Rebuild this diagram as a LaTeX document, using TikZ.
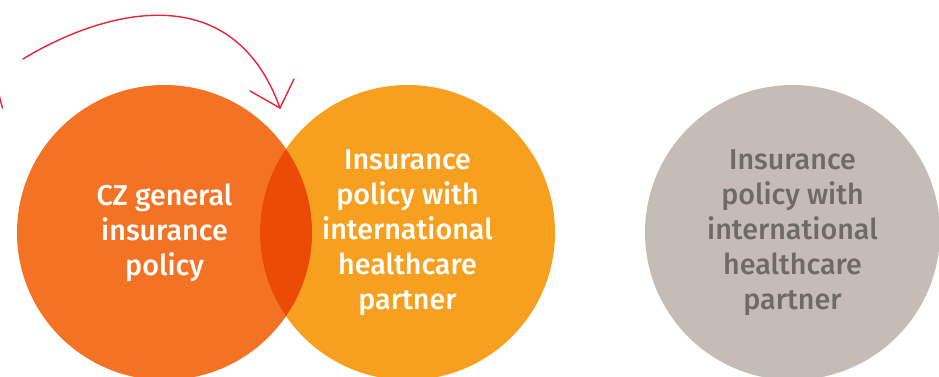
\documentclass[tikz,border=0pt]{standalone}
\usepackage{fontspec}
\setmainfont{Fira Sans Medium}
\definecolor{czorange}{HTML}{F37224}
\definecolor{partnerorange}{HTML}{F7A020}
\definecolor{overlaporange}{HTML}{EB4A07}
\definecolor{stonegrey}{HTML}{C5BDB5}
\definecolor{stonetext}{HTML}{6E6A66}
\definecolor{arrowred}{HTML}{E8243C}
\tikzset{
  policy/.style={circle, minimum size=295pt, inner sep=0pt, align=center,
    font=\fontsize{28.7}{35}\selectfont},
  bendarrow/.style={draw=arrowred, line width=1.4pt, line join=miter, line cap=round}
}
\begin{document}
\begin{tikzpicture}[x=1pt, y=-1pt]
  \useasboundingbox (0,0) rectangle (939,376);
  \clip (0,0) rectangle (939,376);

  % policy circles
  \node[policy, fill=czorange, text=white] (cz) at (164.5,232.5) {CZ general\\insurance\\policy};
  \node[policy, fill=partnerorange, text=white] (partner) at (407.5,232.5)
    {Insurance\\policy with\\international\\healthcare\\partner};
  \node[policy, fill=stonegrey, text=stonetext] (alt) at (792.5,232.5)
    {Insurance\\policy with\\international\\healthcare\\partner};

  % overlap of the two coloured circles
  \begin{scope}
    \clip (cz.center) circle (147.5);
    \fill[overlaporange] (partner.center) circle (147.5);
  \end{scope}

  % curved arrow pointing at the partner policy
  \coordinate (arrowstart) at (23,59);
  \coordinate (arrowtip) at (280,108);
  \coordinate (barbleft) at (250,91);
  \coordinate (barbright) at (294,79);
  \draw[bendarrow] (arrowstart) .. controls (95,15) and (230,-30) .. (arrowtip);
  \draw[bendarrow] (barbleft) -- (arrowtip) -- (barbright);

  % stroke of a further arrow at the left edge
  \coordinate (edgetop) at (-1,95);
  \coordinate (edgebottom) at (2.5,108);
  \draw[bendarrow] (edgetop) -- (edgebottom);
\end{tikzpicture}
\end{document}
